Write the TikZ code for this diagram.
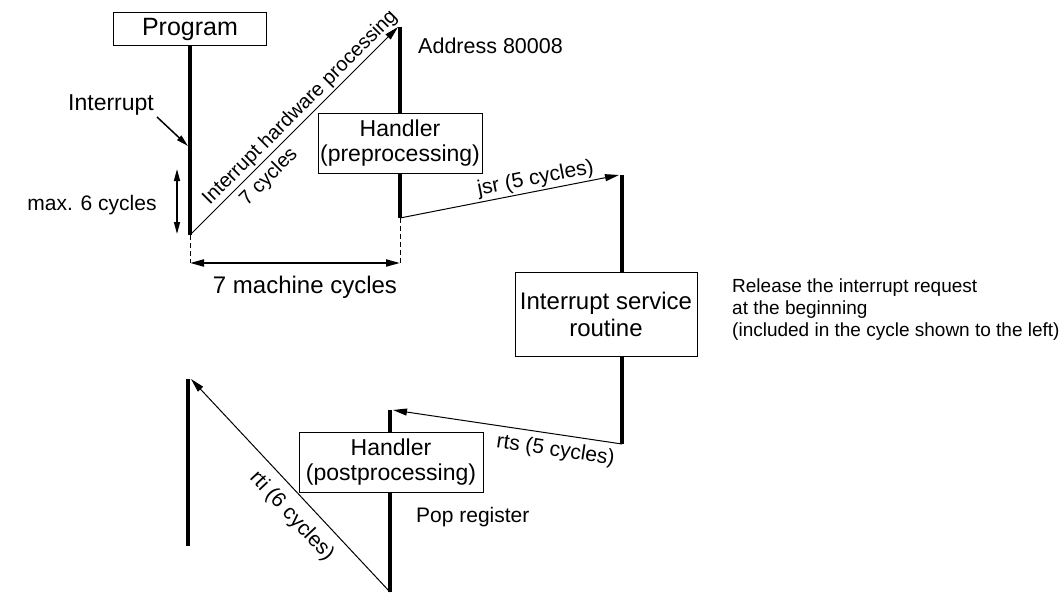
\documentclass[tikz,border=0pt]{standalone}
\usepackage{fontspec}
\setmainfont{Liberation Sans}
\usetikzlibrary{arrows.meta,positioning}
\newcommand{\irfont}[1]{\fontsize{#1}{#1}\selectfont}
\tikzstyle{irbox}=[draw=black,fill=white,line width=1pt,align=center,inner sep=0pt]
\tikzstyle{irbar}=[line width=4pt]
\tikzstyle{irarrow}=[-{Triangle[length=14pt,width=7pt]},line width=1pt]
\tikzstyle{irdim}=[{Triangle[length=14pt,width=7pt]}-{Triangle[length=14pt,width=7pt]},line width=2pt]
\tikzstyle{irguide}=[dashed,line width=1pt,dash pattern=on 5pt off 3pt]
\tikzstyle{irnote}=[font=\irfont{21},inner sep=2pt]
\tikzstyle{irslope}=[font=\irfont{20},sloped,inner sep=2pt]

\begin{document}
\begin{tikzpicture}[x=1pt,y=-1pt]
    \useasboundingbox (0,0) rectangle (1064,594);

    % ---- bar ends ----
    \coordinate (prog0) at (190,46);  \coordinate (prog1) at (190,235);
    \coordinate (pre0)  at (400,27);  \coordinate (pre1)  at (400,218);
    \coordinate (isr0)  at (622,175); \coordinate (isr1)  at (622,444);
    \coordinate (post0) at (390,410); \coordinate (post1) at (390,592);
    \coordinate (ret0)  at (188,379); \coordinate (ret1)  at (188,546);
    \foreach \a/\b in {prog0/prog1,pre0/pre1,isr0/isr1,post0/post1,ret0/ret1}
        {\draw[irbar] (\a) -- (\b);}

    % ---- boxes ----
    \node[irbox,minimum width=153pt,minimum height=33pt,font=\irfont{25}] (prog) at (190,29.5) {Program};
    \node[irbox,minimum width=164pt,minimum height=60pt,font=\irfont{23}] (pre) at (400,143) {Handler\\[2pt](preprocessing)};
    \node[irbox,minimum width=182pt,minimum height=84pt,font=\irfont{24}] (isr) at (606,314) {Interrupt service\\[3pt]routine};
    \node[irbox,minimum width=184pt,minimum height=60pt,font=\irfont{23}] (post) at (391,462) {Handler\\[2pt](postprocessing)};

    % ---- interrupt entry ----
    \node[irnote,font=\irfont{23}] (intlbl) at (111,105) {Interrupt};
    \coordinate (intpt) at (188,146);
    \draw[-{Triangle[length=12pt,width=6pt]},line width=1.5pt] (157,117) -- (intpt);
    \node[irnote,font=\irfont{21}] (maxlbl) at (92,205) {max. 6 cycles};
    \coordinate (max0) at (177,169); \coordinate (max1) at (177,234);
    \draw[{Triangle[length=12pt,width=6pt]}-{Triangle[length=12pt,width=6pt]},line width=1.5pt] (max0) -- (max1);

    % ---- hardware processing ----
    \draw[irarrow] (prog1) -- node[irslope,above,pos=0.57] {Interrupt hardware processing}
        node[irslope,below=3pt,pos=0.33] {7 cycles} ([xshift=-2pt]pre0);
    \node[irnote,anchor=west,font=\irfont{21.5}] (addr) at (416,46) {Address 80008};

    % ---- 7 machine cycles ----
    \coordinate (dim0) at (190,263); \coordinate (dim1) at (400,263);
    \draw[irguide] (prog1) -- (dim0);
    \draw[irguide] (pre1) -- (dim1);
    \draw[irdim] (dim0) -- (dim1);
    \node[irnote,font=\irfont{24}] (dimlbl) at (305,287) {7 machine cycles};

    % ---- jsr / rts / rti ----
    \draw[irarrow] (pre1) -- node[irslope,above,pos=0.63,font=\irfont{21}] {jsr (5 cycles)} ([xshift=-3pt]isr0);
    \draw[irarrow] (isr1) -- node[irslope,below=4pt,pos=0.28,font=\irfont{21}] {rts (5 cycles)} ([xshift=3pt]post0);
    \draw[irarrow] (post1) -- node[irslope,below=8pt,pos=0.42,font=\irfont{21}] {rti (6 cycles)} ([xshift=3pt]ret0);

    % ---- notes ----
    \node[irnote,font=\irfont{19},anchor=west,align=left] (rel) at (730,310)
        {Release the interrupt request\\[3pt]at the beginning\\[3pt](included in the cycle shown to the left)};
    \node[irnote,anchor=west] (pop) at (414,517) {Pop register};
\end{tikzpicture}
\end{document}
